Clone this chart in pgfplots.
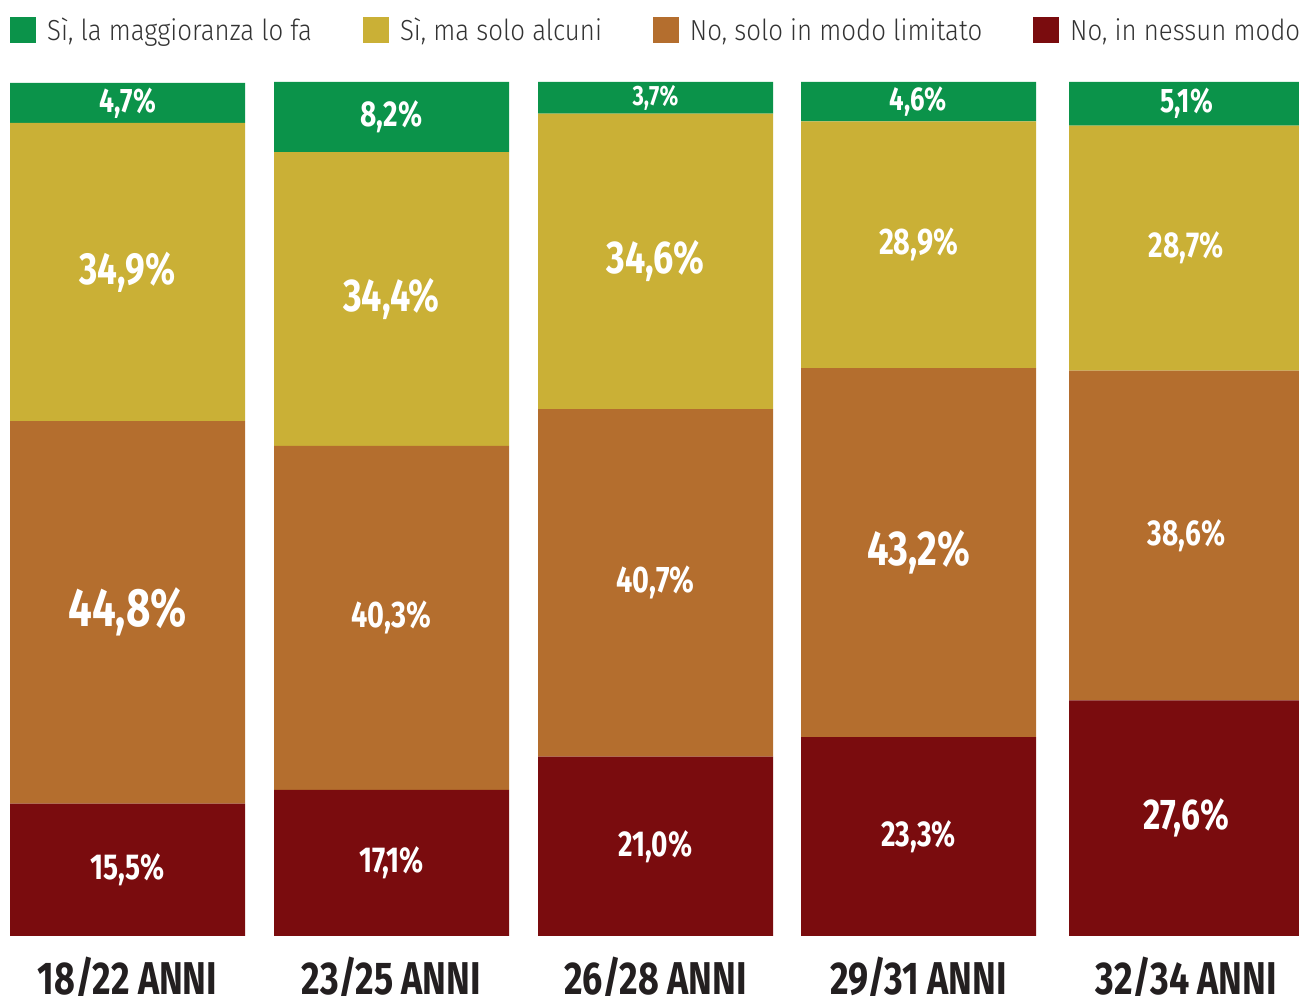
\documentclass[border=0pt]{standalone}
\usepackage{pgfplots}
\pgfplotsset{compat=1.18}
\usepackage{pgfplotstable}
\usepackage{fontspec}
\setmainfont{Fira Sans}
\newfontfamily\legfont[FakeStretch=0.89]{Fira Sans Light}
\newfontfamily\lblfont[FakeStretch=0.78]{Fira Sans}
\definecolor{cG}{RGB}{11,147,74}
\definecolor{cY}{RGB}{202,176,54}
\definecolor{cB}{RGB}{180,110,46}
\definecolor{cR}{RGB}{122,12,14}
\definecolor{legc}{RGB}{51,51,51}
\definecolor{labc}{RGB}{35,31,32}
% x = bar centre (px), values in %, *s = label font size (pt)
\pgfplotstableread{
x      r    b    y    g    rs  bs  ys  gs
127.5  15.5 44.8 34.9 4.7  36  54  45  34
391.5  17.1 40.3 34.4 8.2  36  37  46  36
655.5  21.0 40.7 34.6 3.7  36  37  46  28
918.5  23.3 43.2 28.9 4.6  36  49  37  33
1186.5 27.6 38.6 28.7 5.1  43  36  36  34
}\data
\pgfplotsset{
  seglabel/.style={
    point meta=explicit,
    visualization depends on={\thisrow{#1s} \as \fsz},
    nodes near coords={\fontsize{\fsz pt}{\fsz pt}\selectfont\pgfmathprintnumber[fixed,fixed zerofill,precision=1,use comma,assume math mode=true]{\pgfplotspointmeta}\%},
    every node near coord/.append style={font=\lblfont\bfseries, text=white, anchor=center},
  }
}
\begin{document}
\begin{tikzpicture}[x=1pt,y=1pt]
\begin{axis}[
  at={(0pt,60pt)}, anchor=south west,
  scale only axis, width=1299pt, height=854pt,
  xmin=0, xmax=1299, ymin=0, ymax=100,
  enlargelimits=false, clip=false,
  ybar stacked, bar width=235pt,
  axis line style={draw=none},
  ytick=\empty, xtick=data, major tick length=0pt,
  xticklabels={18/22 ANNI,23/25 ANNI,26/28 ANNI,29/31 ANNI,32/34 ANNI},
  xticklabel style={font=\lblfont\bfseries\fontsize{46}{46}\selectfont, text=labc, anchor=base, yshift=-59pt},
  reverse legend,
  legend image code/.code={\fill[#1] (0pt,-13pt) rectangle (26pt,13pt);},
  legend style={at={(rel axis cs:0.0077,1.0609)}, anchor=west, draw=none, fill=none, inner sep=0pt,
    legend columns=4, font=\legfont\fontsize{29}{29}\selectfont, text=legc,
    /tikz/every odd column/.append style={column sep=9pt},
    /tikz/every even column/.append style={column sep=49pt}},
  legend cell align=left,
]
\addplot[fill=cR, draw=none, seglabel=r] table[x=x, y=r, meta=r]{\data};
\addplot[fill=cB, draw=none, seglabel=b] table[x=x, y=b, meta=b]{\data};
\addplot[fill=cY, draw=none, seglabel=y] table[x=x, y=y, meta=y]{\data};
\addplot[fill=cG, draw=none, seglabel=g] table[x=x, y=g, meta=g]{\data};
\legend{{No, in nessun modo}, {No, solo in modo limitato}, {Sì, ma solo alcuni}, {Sì, la maggioranza lo fa}}
\end{axis}
\pgfresetboundingbox
\path[use as bounding box] (0,0) rectangle (1299,996);
\end{tikzpicture}
\end{document}
